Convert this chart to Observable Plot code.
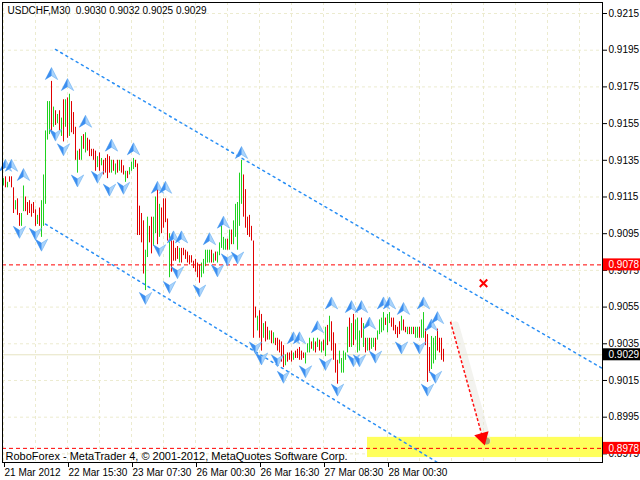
<!DOCTYPE html>
<html><head><meta charset="utf-8">
<script src="https://cdn.jsdelivr.net/npm/d3@7"></script>
<script src="https://cdn.jsdelivr.net/npm/@observablehq/plot@0.6"></script>
<style>
html,body{margin:0;padding:0;background:#fff;}
#chart svg{display:block;}
</style>
</head><body><div id="chart"></div>
<script>
const title = "USDCHF,M30  0.9030 0.9032 0.9025 0.9029";
const caption = "RoboForex - MetaTrader 4, \u00a9 2001-2012, MetaQuotes Software Corp.";
const timeTickIdx = [0, 32, 64, 96, 128, 160, 192];
const timeTickLabels = ["21 Mar 2012", "22 Mar 15:30", "23 Mar 07:30", "26 Mar 00:30", "26 Mar 16:30", "27 Mar 08:30", "28 Mar 00:30"];
const timeGridIdx = [0, 16, 32, 48, 64, 80, 96, 112, 128, 144, 160, 176, 192, 208, 224, 240, 256, 272, 288];
const priceTicks = [0.8975, 0.8995, 0.9015, 0.9035, 0.9055, 0.9075, 0.9095, 0.9115, 0.9135, 0.9155, 0.9175, 0.9195, 0.9215];

// M30 bars (bar index = position), high / low / bullish flag
const barHigh = [
0.9125,0.9126,0.9123,0.9126,0.9126,0.9120,0.9113,0.9114,0.9106,0.9106,
0.9121,0.9115,0.9112,0.9113,0.9111,0.9112,0.9108,0.9105,0.9109,0.9113,
0.9127,0.9151,0.9167,0.9167,0.9178,0.9164,0.9162,0.9160,0.9162,0.9158,
0.9168,0.9168,0.9169,0.9171,0.9167,0.9161,0.9153,0.9140,0.9141,0.9148,
0.9149,0.9150,0.9147,0.9146,0.9141,0.9141,0.9140,0.9137,0.9139,0.9136,
0.9135,0.9136,0.9138,0.9137,0.9135,0.9135,0.9133,0.9135,0.9135,0.9135,
0.9132,0.9129,0.9129,0.9131,0.9134,0.9136,0.9135,0.9133,0.9110,0.9106,
0.9102,0.9086,0.9104,0.9099,0.9104,0.9104,0.9115,0.9120,0.9111,0.9109,
0.9114,0.9114,0.9103,0.9095,0.9093,0.9091,0.9087,0.9088,0.9087,0.9087,
0.9087,0.9086,0.9085,0.9083,0.9083,0.9080,0.9081,0.9079,0.9078,0.9079,
0.9081,0.9086,0.9086,0.9086,0.9086,0.9084,0.9085,0.9085,0.9090,0.9102,
0.9093,0.9092,0.9092,0.9097,0.9097,0.9102,0.9111,0.9112,0.9128,0.9135,
0.9127,0.9119,0.9104,0.9105,0.9099,0.9091,0.9055,0.9050,0.9053,0.9051,
0.9046,0.9047,0.9044,0.9042,0.9042,0.9041,0.9038,0.9038,0.9037,0.9036,
0.9034,0.9029,0.9030,0.9030,0.9031,0.9030,0.9031,0.9032,0.9033,0.9031,
0.9030,0.9030,0.9035,0.9038,0.9036,0.9038,0.9036,0.9038,0.9037,0.9036,
0.9037,0.9044,0.9045,0.9050,0.9047,0.9041,0.9035,0.9026,0.9031,0.9027,
0.9031,0.9030,0.9044,0.9049,0.9046,0.9051,0.9048,0.9049,0.9042,0.9049,
0.9046,0.9038,0.9038,0.9038,0.9038,0.9038,0.9038,0.9042,0.9048,0.9049,
0.9052,0.9049,0.9051,0.9052,0.9049,0.9049,0.9045,0.9044,0.9047,0.9050,
0.9048,0.9044,0.9044,0.9044,0.9044,0.9044,0.9044,0.9044,0.9044,0.9048,
0.9052,0.9043,0.9040,0.9033,0.9039,0.9038,0.9039,0.9043,0.9038,0.9038,
0.9032];
const barLow = [
0.9121,0.9120,0.9120,0.9123,0.9120,0.9106,0.9108,0.9105,0.9099,0.9099,
0.9107,0.9107,0.9105,0.9106,0.9104,0.9106,0.9099,0.9100,0.9099,0.9093,
0.9099,0.9111,0.9146,0.9149,0.9150,0.9153,0.9154,0.9155,0.9151,0.9148,
0.9145,0.9153,0.9147,0.9148,0.9150,0.9149,0.9135,0.9128,0.9135,0.9135,
0.9141,0.9139,0.9140,0.9137,0.9137,0.9135,0.9129,0.9131,0.9129,0.9132,
0.9127,0.9128,0.9125,0.9128,0.9128,0.9129,0.9127,0.9128,0.9129,0.9128,
0.9127,0.9123,0.9125,0.9127,0.9129,0.9130,0.9131,0.9094,0.9094,0.9090,
0.9073,0.9064,0.9082,0.9090,0.9084,0.9088,0.9095,0.9089,0.9093,0.9095,
0.9098,0.9101,0.9091,0.9071,0.9074,0.9080,0.9080,0.9081,0.9079,0.9079,
0.9083,0.9081,0.9079,0.9078,0.9079,0.9076,0.9074,0.9071,0.9068,0.9071,
0.9073,0.9077,0.9079,0.9079,0.9079,0.9079,0.9080,0.9079,0.9083,0.9087,
0.9086,0.9086,0.9086,0.9086,0.9089,0.9089,0.9093,0.9086,0.9099,0.9111,
0.9104,0.9098,0.9094,0.9093,0.9091,0.9038,0.9049,0.9042,0.9038,0.9031,
0.9038,0.9036,0.9037,0.9037,0.9035,0.9035,0.9034,0.9031,0.9030,0.9025,
0.9022,0.9023,0.9025,0.9026,0.9025,0.9026,0.9027,0.9027,0.9026,0.9026,
0.9027,0.9024,0.9030,0.9030,0.9032,0.9031,0.9030,0.9033,0.9031,0.9030,
0.9031,0.9028,0.9034,0.9036,0.9031,0.9026,0.9019,0.9013,0.9024,0.9019,
0.9019,0.9026,0.9030,0.9033,0.9033,0.9034,0.9037,0.9030,0.9031,0.9038,
0.9033,0.9030,0.9031,0.9031,0.9032,0.9033,0.9031,0.9037,0.9040,0.9041,
0.9042,0.9045,0.9041,0.9046,0.9044,0.9042,0.9040,0.9038,0.9040,0.9042,
0.9042,0.9041,0.9040,0.9040,0.9040,0.9040,0.9038,0.9038,0.9038,0.9038,
0.9038,0.9034,0.9014,0.9019,0.9021,0.9024,0.9026,0.9031,0.9030,0.9026,
0.9025];
const barBull = [
1,0,1,0,0,0,1,0,0,1, 1,0,0,0,0,0,0,1,0,1, 1,1,1,1,0,1,0,1,0,1,
0,1,0,1,0,0,0,1,0,1, 0,1,0,0,0,0,0,1,0,1, 0,0,0,0,1,0,1,0,1,0,
0,1,0,1,1,1,0,0,0,0, 0,1,1,0,0,1,1,0,1,0, 0,0,0,1,0,0,0,0,1,0,
0,0,0,0,0,0,0,0,0,1, 1,1,1,1,0,1,0,1,1,1, 1,1,0,1,0,1,1,1,1,1,
0,0,0,0,0,0,0,1,0,0, 1,0,0,1,0,1,0,0,0,0, 0,1,0,0,0,1,0,0,0,0,
0,1,1,1,0,1,0,1,0,1, 0,1,0,1,0,0,0,0,1,1, 1,1,1,0,1,0,1,1,1,0,
1,0,1,0,1,1,0,1,1,1, 1,0,1,1,0,0,0,0,0,1, 0,0,1,0,1,0,1,1,0,1,
1,0,0,0,1,1,1,0,0,0, 0];

// fractal arrows: bar index and price
const fracUpIdx = [1, 4, 10, 24, 32, 41, 54, 65, 77, 81, 85, 89, 103, 110, 119, 145, 148, 157, 164, 174, 179, 183, 190, 193, 200, 210, 214, 217];
const fracUpPrice = [0.9132, 0.9132, 0.9127, 0.9182, 0.9176, 0.9156, 0.9143, 0.9141, 0.9120, 0.9120, 0.9093, 0.9093, 0.9092, 0.9101, 0.9139, 0.9038, 0.9038, 0.9044, 0.9057, 0.9055, 0.9055, 0.9046, 0.9057, 0.9057, 0.9054, 0.9057, 0.9045, 0.9049];
const fracDnIdx = [8, 16, 19, 26, 30, 37, 47, 53, 60, 71, 78, 83, 87, 98, 107, 112, 117, 126, 129, 137, 140, 151, 161, 167, 175, 178, 186, 199, 208, 212, 216];
const fracDnPrice = [0.9096, 0.9095, 0.9089, 0.9149, 0.9141, 0.9124, 0.9126, 0.9119, 0.9120, 0.9060, 0.9086, 0.9066, 0.9074, 0.9064, 0.9075, 0.9081, 0.9082, 0.9033, 0.9027, 0.9026, 0.9017, 0.9020, 0.9024, 0.9010, 0.9026, 0.9026, 0.9028, 0.9033, 0.9033, 0.9010, 0.9017];

// channel lines (bar index, price)
const upperChannel = [{i: 26, p: 0.91954}, {i: 299.5, p: 0.90215}];
const lowerChannel = [{i: 21, p: 0.91002}, {i: 217, p: 0.89703}];
// horizontal levels
const levelPrices = [0.9078, 0.8978];
const currentPrice = 0.9029;
// forecast
const forecastFrom = {i: 223.5, p: 0.9047};
const forecastTo = {i: 239.5, p: 0.8984};
const targetDot = {i: 241.5, p: 0.8982};
const crossMark = {i: 240, p: 0.9068};
const targetZone = {i1: 182, i2: 299.5, p1: 0.8973, p2: 0.8984};

const bars = barHigh.map((h, i) => ({i, high: h, low: barLow[i], color: barBull[i] ? "#1fd21f" : "#e00000"}));
const fracUp = fracUpIdx.map((i, k) => ({i, p: fracUpPrice[k]}));
const fracDn = fracDnIdx.map((i, k) => ({i, p: fracDnPrice[k]}));
const priceBoxes = [
  {price: levelPrices[0], color: "#ff0000"},
  {price: levelPrices[1], color: "#ff0000"},
  {price: currentPrice, color: "#000000"}
];

function arrowSym(dir, half) {
  return {draw(ctx, size) {
    const s = Math.sqrt(size / Math.PI);
    const w = s * 0.95;
    if (half) {
      ctx.moveTo(0, -dir * s); ctx.lineTo(0, dir * s * 0.25); ctx.lineTo(-w, dir * s * 0.85); ctx.closePath();
    } else {
      ctx.moveTo(0, -dir * s); ctx.lineTo(w, dir * s * 0.85); ctx.lineTo(0, dir * s * 0.25); ctx.lineTo(-w, dir * s * 0.85); ctx.closePath();
    }
  }};
}

const FONT = "Liberation Sans, Arial, sans-serif";
const grid = "#ecebcf";

const chart = Plot.plot({
  width: 640, height: 480,
  marginLeft: 2, marginRight: 38, marginTop: 2, marginBottom: 18,
  style: {fontFamily: FONT, fontSize: "10px", color: "black", background: "white"},
  x: {domain: [-0.5, 299.5], axis: null},
  y: {domain: [0.89703, 0.92210], axis: null},
  color: {type: "identity"},
  marks: [
    Plot.ruleY(priceTicks, {stroke: grid, strokeDasharray: "3,3"}),
    Plot.ruleX(timeGridIdx, {stroke: grid, strokeDasharray: "3,3"}),
    Plot.rect([targetZone], {x1: "i1", x2: "i2", y1: "p1", y2: "p2", fill: "#ffff5c"}),
    Plot.ruleY([currentPrice], {stroke: "#e6e4c2"}),
    Plot.ruleX(bars, {x: "i", y1: "low", y2: "high", stroke: "color", strokeWidth: 1}),
    Plot.ruleY(levelPrices, {stroke: "#ff0000", strokeDasharray: "4,3"}),
    Plot.line(upperChannel, {x: "i", y: "p", stroke: "#2a8ff5", strokeDasharray: "2,4"}),
    Plot.line(lowerChannel, {x: "i", y: "p", stroke: "#2a8ff5", strokeDasharray: "2,4"}),
    Plot.dot(fracUp, {x: "i", y: "p", r: 6.5, symbol: arrowSym(1, false), fill: "#a9d3fb", stroke: "#5aa6ee", strokeWidth: 0.5}),
    Plot.dot(fracUp, {x: "i", y: "p", r: 6.5, symbol: arrowSym(1, true), fill: "#3d8ff0"}),
    Plot.dot(fracDn, {x: "i", y: "p", r: 6.5, symbol: arrowSym(-1, false), fill: "#a9d3fb", stroke: "#5aa6ee", strokeWidth: 0.5}),
    Plot.dot(fracDn, {x: "i", y: "p", r: 6.5, symbol: arrowSym(-1, true), fill: "#3d8ff0"}),
    Plot.link([{a: forecastFrom, b: forecastTo}], {x1: d => d.a.i, y1: d => d.a.p, x2: d => d.b.i, y2: d => d.b.p, dx: 5, dy: 3, stroke: "#e4e4dc", strokeOpacity: 0.45, strokeWidth: 7, strokeLinecap: "round"}),
    Plot.link([{a: forecastFrom, b: forecastTo}], {x1: d => d.a.i, y1: d => d.a.p, x2: d => d.b.i, y2: d => d.b.p, stroke: "#ff1010", strokeWidth: 1.5, strokeDasharray: "3,2"}),
    Plot.dot([targetDot], {x: "i", y: "p", r: 3.5, fill: "#9c9c70", fillOpacity: 0.85}),
    Plot.dot([forecastTo], {x: "i", y: "p", r: 5.5, symbol: "triangle", rotate: 164.6, fill: "#ff0000"}),
    Plot.dot([crossMark], {x: "i", y: "p", r: 3.5, symbol: "times", stroke: "#ff0000", strokeWidth: 2}),
    Plot.frame({stroke: "black"}),
    Plot.axisY(priceTicks, {anchor: "right", tickSize: 4, tickPadding: 2, tickFormat: d => d.toFixed(4), fontSize: 10, stroke: "black", fill: "black"}),
    Plot.axisX(timeTickIdx, {anchor: "bottom", tickSize: 5, tickPadding: 1, textAnchor: "start", dx: 1, tickFormat: d => timeTickLabels[timeTickIdx.indexOf(d)], fontSize: 10, stroke: "black", fill: "black"}),
    Plot.rect(priceBoxes, {y1: "price", y2: "price", insetTop: -6, insetBottom: -6, insetLeft: 601, insetRight: -38, fill: "color"}),
    Plot.text(priceBoxes, {y: "price", text: d => d.price.toFixed(4), frameAnchor: "right", dx: 6, textAnchor: "start", fill: "white", fontSize: 10}),
    Plot.text([title], {frameAnchor: "top-left", dx: 5, dy: 4, textAnchor: "start", lineAnchor: "top", fontSize: 10, fill: "black"}),
    Plot.text([caption], {frameAnchor: "bottom-left", dx: 3, dy: -3, textAnchor: "start", lineAnchor: "bottom", fontSize: 11, fill: "black"})
  ]
});
document.getElementById("chart").appendChild(chart);
</script>
</body></html>
